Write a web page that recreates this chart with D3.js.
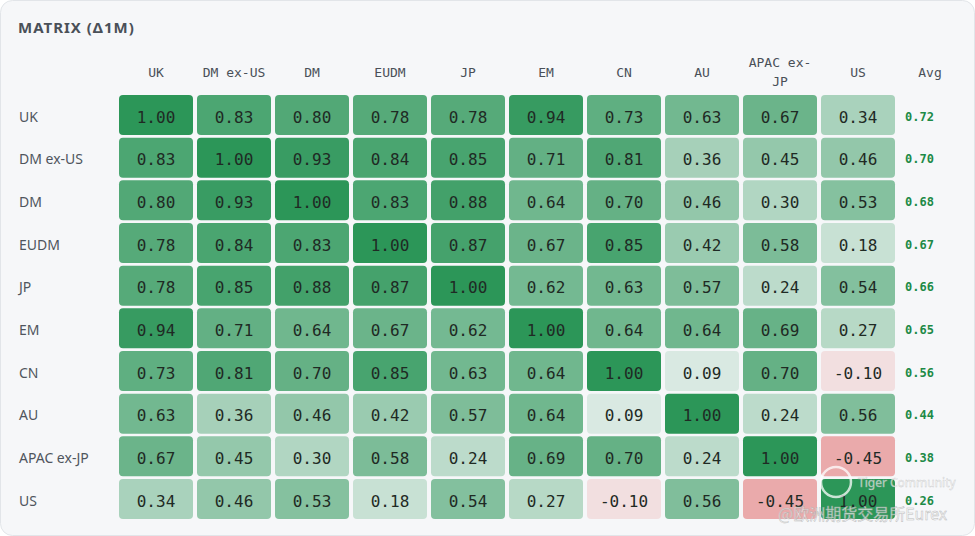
<!DOCTYPE html>
<html><head><meta charset="utf-8">
<script src="https://cdn.jsdelivr.net/npm/d3@7"></script>
<style>
html,body{margin:0;padding:0;background:#fff;}
svg{display:block;}
</style></head>
<body>
<svg id="chart" width="975" height="536"></svg>
<script>
const title = "MATRIX (Δ1M)";
const markets = ["UK","DM ex-US","DM","EUDM","JP","EM","CN","AU","APAC ex-JP","US"];
const colHeaders = [["UK"],["DM ex-US"],["DM"],["EUDM"],["JP"],["EM"],["CN"],["AU"],["APAC ex-","JP"],["US"]];
const rowUK    = [1.00,0.83,0.80,0.78,0.78,0.94,0.73,0.63,0.67,0.34];
const rowDMxUS = [0.83,1.00,0.93,0.84,0.85,0.71,0.81,0.36,0.45,0.46];
const rowDM    = [0.80,0.93,1.00,0.83,0.88,0.64,0.70,0.46,0.30,0.53];
const rowEUDM  = [0.78,0.84,0.83,1.00,0.87,0.67,0.85,0.42,0.58,0.18];
const rowJP    = [0.78,0.85,0.88,0.87,1.00,0.62,0.63,0.57,0.24,0.54];
const rowEM    = [0.94,0.71,0.64,0.67,0.62,1.00,0.64,0.64,0.69,0.27];
const rowCN    = [0.73,0.81,0.70,0.85,0.63,0.64,1.00,0.09,0.70,-0.10];
const rowAU    = [0.63,0.36,0.46,0.42,0.57,0.64,0.09,1.00,0.24,0.56];
const rowAPAC  = [0.67,0.45,0.30,0.58,0.24,0.69,0.70,0.24,1.00,-0.45];
const rowUS    = [0.34,0.46,0.53,0.18,0.54,0.27,-0.10,0.56,-0.45,1.00];
const matrix = [rowUK,rowDMxUS,rowDM,rowEUDM,rowJP,rowEM,rowCN,rowAU,rowAPAC,rowUS];
const avgs = [0.72,0.70,0.68,0.67,0.66,0.65,0.56,0.44,0.38,0.26];

const svg = d3.select("#chart");
const W = 975, H = 536;
const mono = "'DejaVu Sans Mono', 'Liberation Mono', monospace";
const sans = "'Noto Sans', 'Open Sans', sans-serif";

// card
svg.append("rect").attr("x",0.5).attr("y",0.5).attr("width",W-1).attr("height",H-1)
  .attr("rx",12).attr("fill","#f6f7f9").attr("stroke","#e2e5e9");

svg.append("text").attr("x",18).attr("y",33).text(title)
  .attr("font-family",sans).attr("font-size",15).attr("font-weight",700)
  .attr("letter-spacing",1).attr("fill","#4a5058");

const x = d3.scaleBand().domain(markets).range([119,895]).paddingInner(4/78);
const y = d3.scaleBand().domain(markets).range([95,519]).paddingInner(0.0625);

const posColor = d3.rgb(44,150,88), negColor = d3.rgb(222,88,88);
const bg = d3.rgb(246,247,249);
function cellColor(v){
  const a = Math.min(1, 0.06 + 0.94*Math.abs(v));
  const c = v >= 0 ? posColor : negColor;
  return d3.interpolateRgb(bg, c)(a);
}

// column headers
const hdr = svg.append("g");
markets.forEach((m,i)=>{
  const lines = colHeaders[i];
  const cx = x(m) + x.bandwidth()/2;
  const t = hdr.append("text").attr("x",cx).attr("text-anchor","middle")
    .attr("font-family",mono).attr("font-size",13).attr("fill","#4a5058");
  if(lines.length===1){
    t.attr("y",77).text(lines[0]);
  } else {
    lines.forEach((l,j)=>t.append("tspan").attr("x",cx).attr("y",67+j*19).text(l));
  }
});
svg.append("text").attr("x",930).attr("y",77).attr("text-anchor","middle")
  .attr("font-family",mono).attr("font-size",13).attr("fill","#4a5058").text("Avg");

// rows
markets.forEach((r,ri)=>{
  const cy = y(r) + y.bandwidth()/2;
  svg.append("text").attr("x",19).attr("y",cy+6.5).text(r)
    .attr("font-family",sans).attr("font-size",14).attr("fill","#4f555d");
  const g = svg.append("g");
  g.selectAll("rect").data(matrix[ri]).join("rect")
    .attr("x",(d,ci)=>x(markets[ci])).attr("y",y(r))
    .attr("width",x.bandwidth()).attr("height",y.bandwidth())
    .attr("rx",4).attr("fill",d=>cellColor(d));
  g.selectAll("text").data(matrix[ri]).join("text")
    .attr("x",(d,ci)=>x(markets[ci])+x.bandwidth()/2).attr("y",cy+7.5)
    .attr("text-anchor","middle").attr("font-family",mono).attr("font-size",16)
    .attr("fill","#1f2a24").text(d=>d.toFixed(2));
  svg.append("text").attr("x",905).attr("y",cy+5.5).text(avgs[ri].toFixed(2))
    .attr("font-family",mono).attr("font-size",12).attr("font-weight",700).attr("fill","#1d8a47");
});

// watermark
const wm = svg.append("g").attr("opacity",0.75);
wm.append("circle").attr("cx",836).attr("cy",482).attr("r",15).attr("fill","none")
  .attr("stroke","#fff").attr("stroke-width",2.5);
wm.append("text").attr("x",858).attr("y",487).text("Tiger Community")
  .attr("font-family",sans).attr("font-size",12).attr("fill","#fff").attr("stroke","#bbb").attr("stroke-width",0.4);
wm.append("text").attr("x",778).attr("y",520).text("@欧洲期货交易所Eurex")
  .attr("font-family","'Noto Sans CJK SC', sans-serif").attr("font-size",16).attr("fill","#fff").attr("stroke","#aaa").attr("stroke-width",0.5);
</script>
</body></html>
